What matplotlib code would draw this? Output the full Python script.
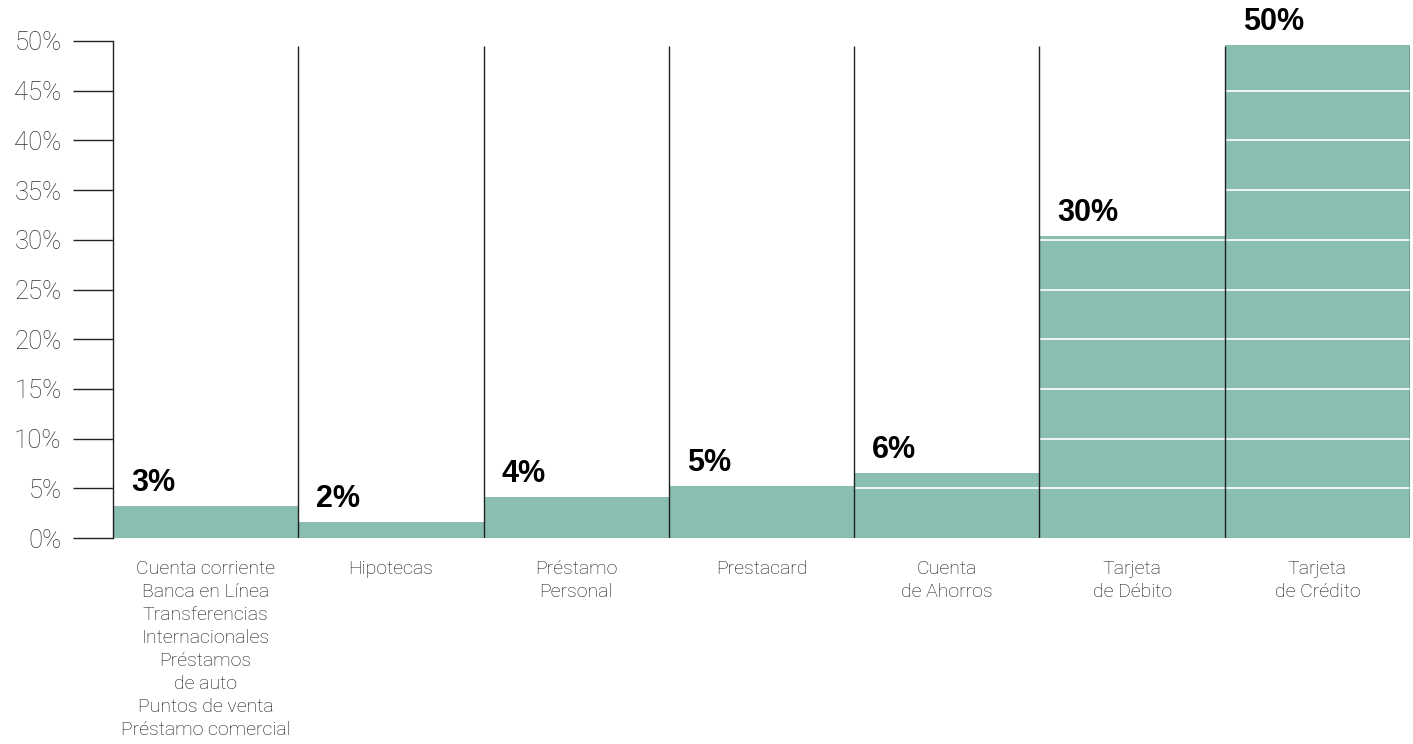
import matplotlib
matplotlib.use("Agg")
import matplotlib.pyplot as plt

# Data
categories = [
    "Cuenta corriente\nBanca en Línea\nTransferencias\nInternacionales\nPréstamos\nde auto\nPuntos de venta\nPréstamo comercial",
    "Hipotecas",
    "Préstamo\nPersonal",
    "Prestacard",
    "Cuenta\nde Ahorros",
    "Tarjeta\nde Débito",
    "Tarjeta\nde Crédito",
]
heights = [3.2, 1.6, 4.1, 5.2, 6.5, 30.4, 49.6]
value_labels = ["3%", "2%", "4%", "5%", "6%", "30%", "50%"]
y_ticks = [0, 5, 10, 15, 20, 25, 30, 35, 40, 45, 50]
y_tick_labels = [f"{t}%" for t in y_ticks]

bar_color = "#89beb1"
light_font = ["Roboto", "DejaVu Sans"]

fig = plt.figure(figsize=(14.13, 7.44), dpi=100)
ax = fig.add_axes([113 / 1413, (744 - 538) / 744, (1410 - 113) / 1413, (538 - 41) / 744])

positions = list(range(len(categories)))
ax.bar(positions, heights, width=1.0, align="edge", color=bar_color, zorder=1)

# white gridlines, only inside the bars
for p, h in zip(positions, heights):
    lines = [t for t in y_ticks[1:] if t < h - 0.3]
    if lines:
        ax.hlines(lines, p, p + 1, color="white", linewidth=1.2, zorder=2)

# vertical separators
ax.vlines([p + 1 for p in positions], 0, 49.5, color="#222222", linewidth=1.0, zorder=3)

# value labels
for p, h, lab in zip(positions, heights, value_labels):
    ax.annotate(lab, (p, h), xytext=(13, 11), textcoords="offset points",
                ha="left", va="baseline", fontsize=22, fontweight="bold",
                family="Liberation Sans", color="black")

ax.set_xlim(0, 7)
ax.set_ylim(0, 50)

ax.set_yticks(y_ticks)
ax.set_yticklabels(y_tick_labels, family=light_font, fontweight="light",
                   fontsize=18.5, color="#333333")
ax.tick_params(axis="y", length=29, width=1.0, color="#222222", pad=8)

ax.set_xticks([p + 0.5 for p in positions])
ax.set_xticklabels(categories, family=light_font, fontweight="light",
                   fontsize=14, color="#111111", linespacing=1.35, va="top")
ax.tick_params(axis="x", length=0, pad=16)

for side in ["top", "right", "bottom"]:
    ax.spines[side].set_visible(False)
ax.spines["left"].set_color("#222222")
ax.spines["left"].set_linewidth(1.0)

fig.savefig("out.png", dpi=100)
